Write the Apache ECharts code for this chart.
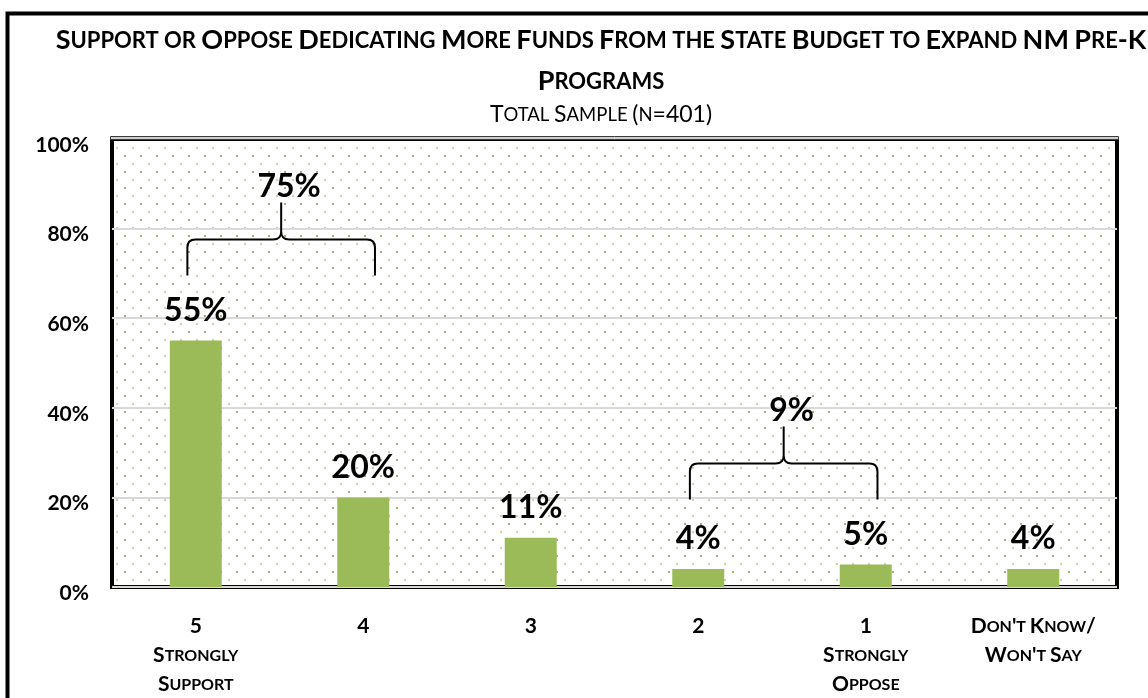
<!DOCTYPE html>
<html>
<head>
<meta charset="utf-8">
<script src="https://cdn.jsdelivr.net/npm/echarts@6/dist/echarts.min.js"></script>
<style>
html,body{margin:0;padding:0;background:#fff;}
#chart{width:1148px;height:698px;}
</style>
</head>
<body>
<div id="chart"></div>
<script>
// ---- data ----
const titleLine1 = "Support or Oppose Dedicating More Funds From the State Budget to Expand NM Pre-K";
const titleLine2 = "Programs";
const subtitle = "Total Sample (n=401)";
const categories = ["5\nStrongly\nSupport", "4", "3", "2", "1\nStrongly\nOppose", "Don't Know/\nWon't Say"];
const values = [55, 20, 11, 4, 5, 4];
const yTickValues = [0, 20, 40, 60, 80, 100];
const bracketSpans = [[0, 1], [3, 4]];
const bracketTotals = [75, 9];

// ---- helpers ----
function smallCaps(line, big, small) {
  let out = '', curType = null, buf = '';
  for (const ch of line) {
    const isLower = ch !== ch.toUpperCase() || ch === ' ';
    const t = isLower ? small : big;
    if (t !== curType && buf) { out += '{' + curType + '|' + buf + '}'; buf = ''; }
    curType = t;
    buf += ch.toUpperCase();
  }
  if (buf) out += '{' + curType + '|' + buf + '}';
  return out;
}
function dotPattern() {
  const c = document.createElement('canvas');
  c.width = 16; c.height = 16;
  const g = c.getContext('2d');
  g.fillStyle = '#ffffff'; g.fillRect(0, 0, 16, 16);
  g.fillStyle = '#c2d99a';
  g.fillRect(4, 3, 2, 2);
  g.fillStyle = '#a4b466';
  g.fillRect(12, 11, 2, 2);
  return c;
}

const FONT = 'Lato, "Open Sans", sans-serif';
const chart = echarts.init(document.getElementById('chart'));

const option = {
  animation: false,
  grid: {
    left: 112, right: 31, top: 139, bottom: 111,
    show: true,
    borderColor: '#000', borderWidth: 4,
    backgroundColor: { image: dotPattern(), repeat: 'repeat' }
  },
  graphic: [
    { type: 'rect', left: 5, top: 11, shape: { x: 0, y: 0, width: 1300, height: 900 },
      style: { fill: 'none', stroke: '#000', lineWidth: 4 }, silent: true, z: 0 },
    { type: 'rect', shape: { x: 110.5, y: 136.5, width: 1008, height: 3 },
      style: { fill: '#cfcfcf', stroke: '#3a3a3a', lineWidth: 1 }, silent: true, z: 20 },
    { type: 'text', x: 601, y: 61, style: {
        text: smallCaps(titleLine1, 'B', 's') + '\n' + smallCaps(titleLine2, 'B', 's'),
        align: 'center', verticalAlign: 'middle',
        rich: {
          B: { fontFamily: FONT, fontWeight: 'bold', fontSize: 27, lineHeight: 41, fill: '#000' },
          s: { fontFamily: FONT, fontWeight: 'bold', fontSize: 22, lineHeight: 41, fill: '#000' }
        } }, z: 10 },
    { type: 'text', x: 601, y: 115, style: {
        text: smallCaps(subtitle, 'B', 's'),
        align: 'center', verticalAlign: 'middle',
        rich: {
          B: { fontFamily: FONT, fontWeight: 'normal', fontSize: 23, fill: '#000' },
          s: { fontFamily: FONT, fontWeight: 'normal', fontSize: 18.5, fill: '#000' }
        } }, z: 10 }
  ],
  xAxis: {
    type: 'category',
    data: categories,
    axisLine: { show: false },
    axisTick: { show: false },
    axisLabel: {
      interval: 0,
      margin: 25,
      formatter: v => v.split('\n').map(l => smallCaps(l, 'B', 's')).join('\n'),
      rich: {
        B: { fontFamily: FONT, fontWeight: 'bold', fontSize: 21, lineHeight: 29, color: '#000' },
        s: { fontFamily: FONT, fontWeight: 'bold', fontSize: 16, lineHeight: 29, color: '#000' }
      }
    }
  },
  yAxis: {
    type: 'value',
    min: 0, max: 100, interval: 20,
    axisLine: { show: false },
    axisTick: { show: false },
    splitLine: { lineStyle: { color: '#d9d9d9', width: 2 } },
    axisLabel: {
      margin: 23,
      verticalAlign: 'top',
      lineHeight: 12,
      formatter: v => yTickValues.includes(v) ? v + '%' : '',
      fontFamily: FONT, fontWeight: 'bold', fontSize: 21, color: '#000'
    }
  },
  series: [
    {
      type: 'bar',
      data: values,
      barWidth: 52,
      itemStyle: { color: '#9bbb59' },
      label: {
        show: true, position: 'top', distance: 14,
        formatter: p => p.value + '%',
        fontFamily: FONT, fontWeight: 'bold', fontSize: 32, color: '#000'
      },
      z: 3
    },
    {
      type: 'custom',
      data: bracketSpans.map((s, i) => [s[0], s[1], bracketTotals[i]]),
      encode: { x: [0, 1], y: 2 },
      clip: false,
      z: 5,
      renderItem: function (params, api) {
        const from = api.value(0), to = api.value(1), total = api.value(2);
        const band = api.size([1, 0])[0];
        let maxV = 0;
        for (let k = from; k <= to; k++) maxV = Math.max(maxV, values[k]);
        const top = api.coord([from, maxV])[1];
        const x0 = api.coord([from, 0])[0] - 0.05 * band;
        const x1 = api.coord([to, 0])[0] + 0.07 * band;
        const xm = (x0 + x1) / 2;
        const yEnd = top - 65;
        const yH = yEnd - 36;
        const yPeak = yH - 37;
        const r = 8;
        const d = `M${x0},${yEnd} L${x0},${yH + r} Q${x0},${yH} ${x0 + r},${yH} L${xm - r},${yH} Q${xm},${yH} ${xm},${yH - r} L${xm},${yPeak} ` +
                  `M${xm},${yH - r} Q${xm},${yH} ${xm + r},${yH} L${x1 - r},${yH} Q${x1},${yH} ${x1},${yH + r} L${x1},${yEnd}`;
        return {
          type: 'group',
          children: [
            { type: 'path', shape: { pathData: d },
              style: { fill: 'none', stroke: '#000', lineWidth: 2 } },
            { type: 'text', x: xm + 8, y: yPeak - 16,
              style: { text: total + '%', align: 'center', verticalAlign: 'middle',
                fontFamily: FONT, fontWeight: 'bold', fontSize: 32, fill: '#000' } }
          ]
        };
      }
    }
  ]
};
chart.setOption(option);
</script>
</body>
</html>
